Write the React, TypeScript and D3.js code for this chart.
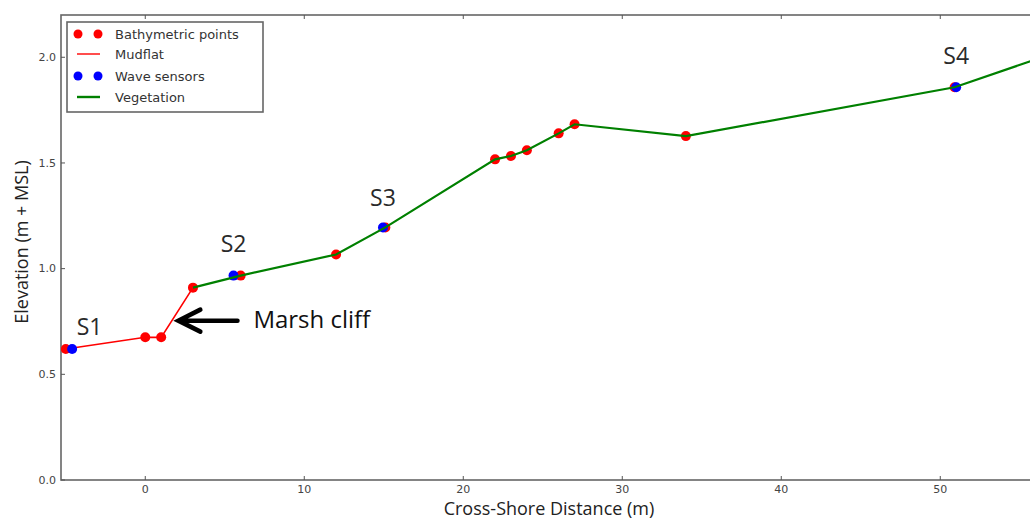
import React from "react";
import * as d3 from "d3";

// ---- data ----
const bathyX = [-5.0, 0, 1, 3, 6.0, 12, 15.1, 22, 23, 24, 26, 27, 34, 50.9, 56];
const bathyY = [0.62, 0.675, 0.675, 0.91, 0.967, 1.067, 1.195, 1.517, 1.533, 1.56, 1.64, 1.683, 1.627, 1.858, 1.99];

const mudflatX = [-5.0, 0, 1, 3];
const mudflatY = [0.62, 0.675, 0.675, 0.91];

const vegX = [3, 6.0, 12, 15.1, 22, 23, 24, 26, 27, 34, 50.9, 56];
const vegY = [0.91, 0.967, 1.067, 1.195, 1.517, 1.533, 1.56, 1.64, 1.683, 1.627, 1.858, 1.99];

const sensorX = [-4.6, 5.55, 14.95, 51.0];
const sensorY = [0.62, 0.967, 1.195, 1.858];

const sensorLabels = ["S1", "S2", "S3", "S4"];
const sensorLabelX = [-3.5, 5.55, 14.95, 51.0];
const sensorLabelY = [0.686, 1.08, 1.296, 1.97];

const xTicks = [0, 10, 20, 30, 40, 50];
const yTicks = [0, 0.5, 1.0, 1.5, 2.0];

const legendLabels = ["Bathymetric points", "Mudflat", "Wave sensors", "Vegetation"];

const cliffText = "Marsh cliff";
const cliffArrowTail = [5.8, 0.754];
const cliffArrowTip = [2.08, 0.754];
const cliffTextPos = [6.8, 0.719];

const RED = "#ff0000";
const BLUE = "#0000ff";
const GREEN = "#008000";

export default function App() {
  const W = 1030;
  const H = 519;
  const left = 61;
  const top = 15;
  const bottom = 480;
  const pxPerUnit = 15.9;
  const x = d3.scaleLinear().domain([-5.3, 60]).range([left, left + 65.3 * pxPerUnit]);
  const y = d3.scaleLinear().domain([0, 2.2]).range([bottom, top]);
  const right = x(60);

  const mkPath = (xs: number[], ys: number[]) =>
    d3
      .line<[number, number]>()
      .x((d) => x(d[0]))
      .y((d) => y(d[1]))(xs.map((v, i) => [v, ys[i]] as [number, number])) || "";

  const tickColor = "#555";
  const tickFont = "'DejaVu Sans', sans-serif";
  const labelFont = "'Open Sans', sans-serif";

  const tipX = x(cliffArrowTip[0]);
  const tipY = y(cliffArrowTip[1]);
  const tailX = x(cliffArrowTail[0]);

  const legX = 67;
  const legY = 22;
  const legRowY = [34, 54, 76, 97];

  return (
    <svg
      width={W}
      height={H}
      style={{ position: "absolute", left: 0, top: 0, background: "#fff" }}
    >
      <rect x={0} y={0} width={W} height={H} fill="#fff" />
      <defs>
        <clipPath id="plotclip">
          <rect x={left} y={top} width={right - left} height={bottom - top} />
        </clipPath>
      </defs>

      {/* frame */}
      <rect
        x={left}
        y={top}
        width={right - left}
        height={bottom - top}
        fill="none"
        stroke="#666"
        strokeWidth={1.6}
      />

      {/* x ticks */}
      {xTicks.map((t) => (
        <g key={"xt" + t}>
          <line x1={x(t)} x2={x(t)} y1={bottom} y2={bottom - 4} stroke={tickColor} strokeWidth={1} />
          <line x1={x(t)} x2={x(t)} y1={top} y2={top + 4} stroke={tickColor} strokeWidth={1} />
          <text
            x={x(t)}
            y={bottom + 13}
            textAnchor="middle"
            fontFamily={tickFont}
            fontSize={11}
            fill="#444"
          >
            {d3.format("d")(t)}
          </text>
        </g>
      ))}

      {/* y ticks */}
      {yTicks.map((t) => (
        <g key={"yt" + t}>
          <line x1={left} x2={left + 4} y1={y(t)} y2={y(t)} stroke={tickColor} strokeWidth={1} />
          <text
            x={left - 5}
            y={y(t)}
            dy="0.35em"
            textAnchor="end"
            fontFamily={tickFont}
            fontSize={11}
            fill="#444"
          >
            {d3.format(".1f")(t)}
          </text>
        </g>
      ))}

      {/* axis titles */}
      <text
        x={549}
        y={515}
        textAnchor="middle"
        fontFamily={labelFont}
        fontSize={18}
        fill="#222"
      >
        Cross-Shore Distance (m)
      </text>
      <text
        transform={`translate(28, 242) rotate(-90)`}
        textAnchor="middle"
        fontFamily={labelFont}
        fontSize={18}
        fill="#222"
      >
        Elevation (m + MSL)
      </text>

      <g clipPath="url(#plotclip)">
        {/* bathymetric points */}
        {bathyX.map((v, i) => (
          <circle key={"b" + i} cx={x(v)} cy={y(bathyY[i])} r={5} fill={RED} />
        ))}
        {/* mudflat line */}
        <path d={mkPath(mudflatX, mudflatY)} fill="none" stroke={RED} strokeWidth={1.6} />
        {/* wave sensors */}
        {sensorX.map((v, i) => (
          <circle key={"s" + i} cx={x(v)} cy={y(sensorY[i])} r={5} fill={BLUE} />
        ))}
        {/* vegetation line */}
        <path d={mkPath(vegX, vegY)} fill="none" stroke={GREEN} strokeWidth={2.2} />
      </g>

      {/* sensor labels */}
      {sensorLabels.map((s, i) => (
        <text
          key={"sl" + i}
          x={x(sensorLabelX[i])}
          y={y(sensorLabelY[i])}
          textAnchor="middle"
          fontFamily={labelFont}
          fontSize={23}
          fill="#2a2a2a"
        >
          {s}
        </text>
      ))}

      {/* marsh cliff annotation */}
      <path
        d={`M${tailX},${tipY} L${tipX + 1},${tipY} M${tipX + 22},${tipY - 11} L${tipX},${tipY} L${tipX + 22},${tipY + 11}`}
        fill="none"
        stroke="#000"
        strokeWidth={4.5}
        strokeLinecap="round"
        strokeLinejoin="miter"
      />
      <text
        x={x(cliffTextPos[0])}
        y={y(cliffTextPos[1])}
        fontFamily={labelFont}
        fontSize={24}
        fill="#111"
      >
        {cliffText}
      </text>

      {/* legend */}
      <rect x={legX} y={legY} width={196} height={90} fill="#fff" stroke="#666" strokeWidth={1.6} />
      {legendLabels.map((lab, i) => {
        const ry = legRowY[i];
        let sym: React.ReactNode = null;
        if (i === 0 || i === 2) {
          const c = i === 0 ? RED : BLUE;
          sym = (
            <>
              <circle cx={78} cy={ry} r={4.5} fill={c} />
              <circle cx={98} cy={ry} r={4.5} fill={c} />
            </>
          );
        } else {
          const c = i === 1 ? "#ff3a3a" : GREEN;
          sym = <line x1={77} x2={100} y1={ry} y2={ry} stroke={c} strokeWidth={i === 1 ? 1.8 : 2.4} />;
        }
        return (
          <g key={"lg" + i}>
            {sym}
            <text x={115} y={ry} dy="0.35em" fontFamily={tickFont} fontSize={13} fill="#333">
              {lab}
            </text>
          </g>
        );
      })}
    </svg>
  );
}
